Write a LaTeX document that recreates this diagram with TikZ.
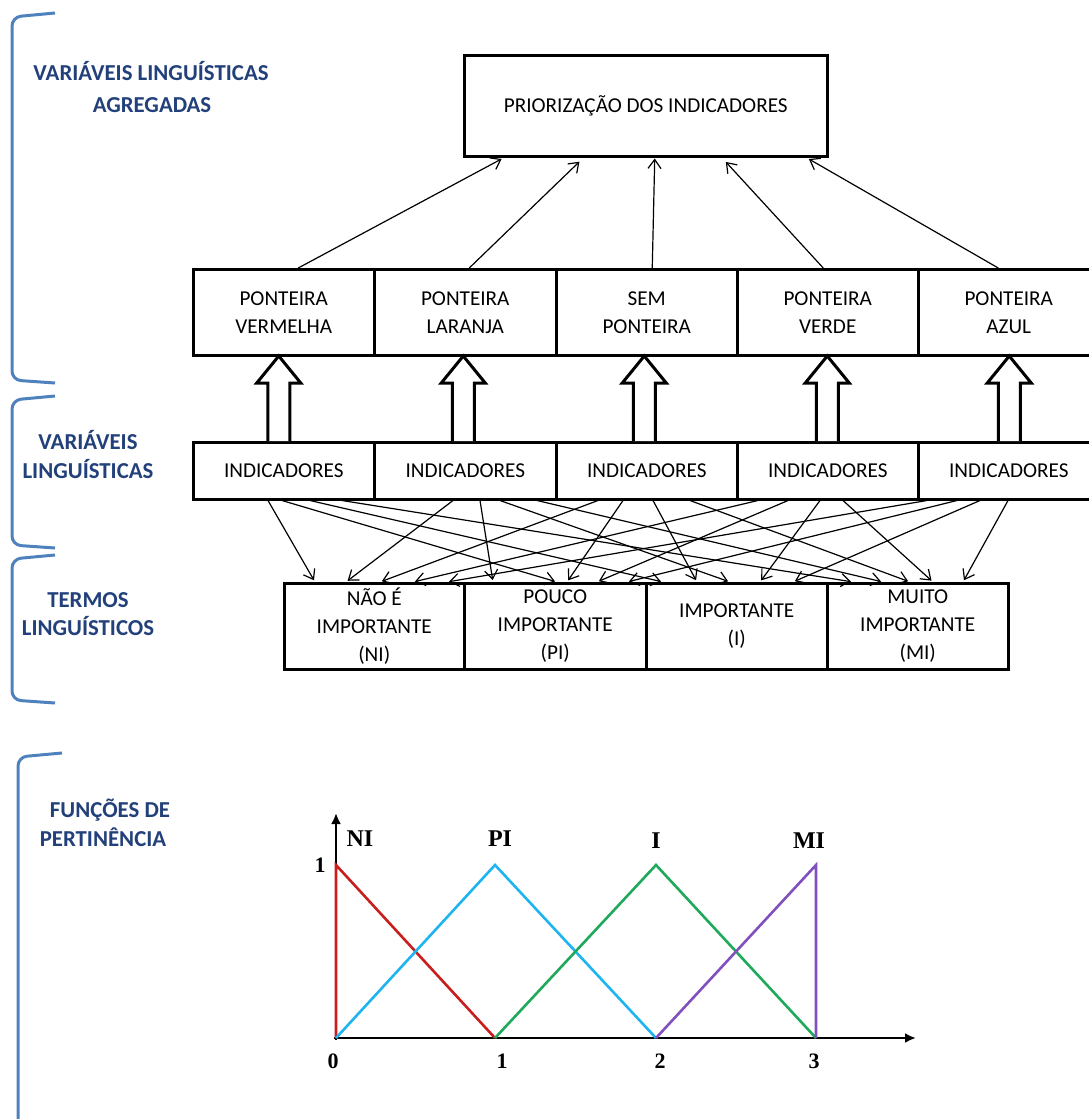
\documentclass[tikz,border=0pt]{standalone}
\usepackage{fontspec}
\setmainfont{Carlito}
\newfontfamily\timesf{Liberation Serif}
\usetikzlibrary{arrows.meta,calc}
\definecolor{bracecol}{RGB}{79,129,189}
\definecolor{labcol}{RGB}{34,64,122}
\definecolor{nired}{RGB}{200,30,30}
\definecolor{piblue}{RGB}{30,180,240}
\definecolor{igreen}{RGB}{30,170,90}
\definecolor{mipurple}{RGB}{130,80,190}
\newcommand\hollowup[2]{\draw[fatarrow] ([xshift=#2]#1.north) ++(-11,0) -- ++(0,-58) -- ++(-11,0) -- ++(22,-27) -- ++(22,27) -- ++(-11,0) -- ++(0,58);}
\begin{document}
\begin{tikzpicture}[x=1pt,y=-1pt,
  box/.style={draw, line width=2.5pt, align=center, inner sep=0pt, font=\fontsize{21.2}{28}\selectfont, anchor=north west},
  lab/.style={text=labcol, font=\bfseries\fontsize{22.8}{30}\selectfont, anchor=base},
  brace/.style={draw=bracecol, line width=3pt, rounded corners=9pt},
  thinarrow/.style={line width=1.2pt, -{Straight Barb[length=9pt,width=13pt]}},
  fatarrow/.style={line width=3pt, fill=white, line join=miter},
  curve/.style={line width=2.6pt},
  axis/.style={line width=2.5pt, -{Latex[length=11pt,width=10pt]}},
  gl/.style={font=\timesf\bfseries\fontsize{24}{24}\selectfont, anchor=base},
  gn/.style={font=\timesf\bfseries\fontsize{22}{22}\selectfont, anchor=base}
]
\useasboundingbox (0,0) rectangle (1089,1119);
\clip (0,0) rectangle (1089,1119);

% braces
\draw[brace] (55,13) -- (12,17) -- (12,380) -- (55,383);
\draw[brace] (55,396) -- (12,400) -- (12,545) -- (55,548);
\draw[brace] (55,555) -- (12,559) -- (12,700) -- (55,703);
\draw[brace] (62,753) -- (18,757) -- (18,1130);

% side labels
\node[lab] (l1a) at (151,80) {VARIÁVEIS LINGUÍSTICAS};
\node[lab] (l1b) at (152,112) {AGREGADAS};
\node[lab] (l2a) at (88,449) {VARIÁVEIS};
\node[lab] (l2b) at (88,478) {LINGUÍSTICAS};
\node[lab] (l3a) at (88,607) {TERMOS};
\node[lab] (l3b) at (88,635) {LINGUÍSTICOS};
\node[lab] (l4a) at (110,817) {FUNÇÕES DE};
\node[lab] (l4b) at (103,846) {PERTINÊNCIA};

% top box
\node[box, minimum width=363, minimum height=101] (top) at (463,54) {PRIORIZAÇÃO DOS INDICADORES};

% ponteira row
\node[box, minimum width=181, minimum height=86] (p1) at (192,268) {PONTEIRA\\VERMELHA};
\node[box, minimum width=182, minimum height=86] (p2) at (373,268) {PONTEIRA\\LARANJA};
\node[box, minimum width=181, minimum height=86] (p3) at (555,268) {SEM\\PONTEIRA};
\node[box, minimum width=181, minimum height=86] (p4) at (736,268) {PONTEIRA\\VERDE};
\node[box, minimum width=181, minimum height=86] (p5) at (917,268) {PONTEIRA\\AZUL};

% indicadores row
\node[box, minimum width=181, minimum height=57] (i1) at (192,441) {INDICADORES};
\node[box, minimum width=182, minimum height=57] (i2) at (373,441) {INDICADORES};
\node[box, minimum width=181, minimum height=57] (i3) at (555,441) {INDICADORES};
\node[box, minimum width=181, minimum height=57] (i4) at (736,441) {INDICADORES};
\node[box, minimum width=181, minimum height=57] (i5) at (917,441) {INDICADORES};

% termos row
\node[box, minimum width=180, minimum height=86] (t1) at (283,582) {NÃO É\\IMPORTANTE\\(NI)};
\node[box, minimum width=182, minimum height=86] (t2) at (463,582) {POUCO\\IMPORTANTE\\(PI)};
\node[box, minimum width=181, minimum height=86] (t3) at (645,582) {IMPORTANTE\\(I)};
\node[box, minimum width=181, minimum height=86] (t4) at (826,582) {MUITO\\IMPORTANTE\\(MI)};

% ponteira -> priorizacao
\draw[thinarrow, shorten >=3pt] ([xshift=14.5]p1.north) -- ([xshift=-141.5]top.south);
\draw[thinarrow, shorten >=6pt] ([xshift=4]p2.north) -- ([xshift=-62]top.south);
\draw[thinarrow, shorten >=1pt] ([xshift=5.5]p3.north) -- ([xshift=9]top.south);
\draw[thinarrow, shorten >=6pt] ([xshift=-4.5]p4.north) -- ([xshift=76]top.south);
\draw[thinarrow, shorten >=3pt] ([xshift=-10.5]p5.north) -- ([xshift=160.5]top.south);

% hollow arrows indicadores -> ponteira
\hollowup{i1}{-5}
\hollowup{i2}{-2}
\hollowup{i3}{-2.5}
\hollowup{i4}{-0.5}
\hollowup{i5}{0.5}

% indicadores -> termos
\foreach \b/\s/\t/\e in {1/76/1/32, 1/90/2/94, 1/118/3/18, 1/150/4/27,
  2/80/1/63, 2/107/2/30, 2/127/3/85, 2/164/4/57,
  3/43/1/97, 3/68/2/104, 3/98/3/52, 3/135/4/84,
  4/22/1/130, 4/52/2/134, 4/84/3/115, 4/107/4/107,
  5/10/1/164, 5/40/2/164, 5/63/3/148, 5/91/4/137}
  \draw[thinarrow, shorten >=2pt] ([xshift=\s]i\b.south west) -- ([xshift=\e]t\t.north west);

% membership functions
\coordinate (o) at (336,1038);
\coordinate (xend) at (916,1038);
\coordinate (yend) at (336,813);
\draw[axis] (336,1040) -- (yend);
\draw[axis] (334,1038) -- (xend);
\draw[curve, nired] (336,1038) -- (336,865) -- (495,1038);
\draw[curve, piblue] (336,1038) -- (495,865) -- (656,1038);
\draw[curve, igreen] (495,1038) -- (656,865) -- (816,1038);
\draw[curve, mipurple] (656,1038) -- (816,865) -- (816,1038);

\node[gl] (lni) at (360,846) {NI};
\node[gl] (lpi) at (500,846) {PI};
\node[gl] (li) at (656,848) {I};
\node[gl] (lmi) at (809,848) {MI};
\node[gn] (y1) at (320,872) {1};
\node[gn] (x0) at (333,1068) {0};
\node[gn] (x1) at (502,1068) {1};
\node[gn] (x2) at (660,1068) {2};
\node[gn] (x3) at (814,1068) {3};
\end{tikzpicture}
\end{document}
